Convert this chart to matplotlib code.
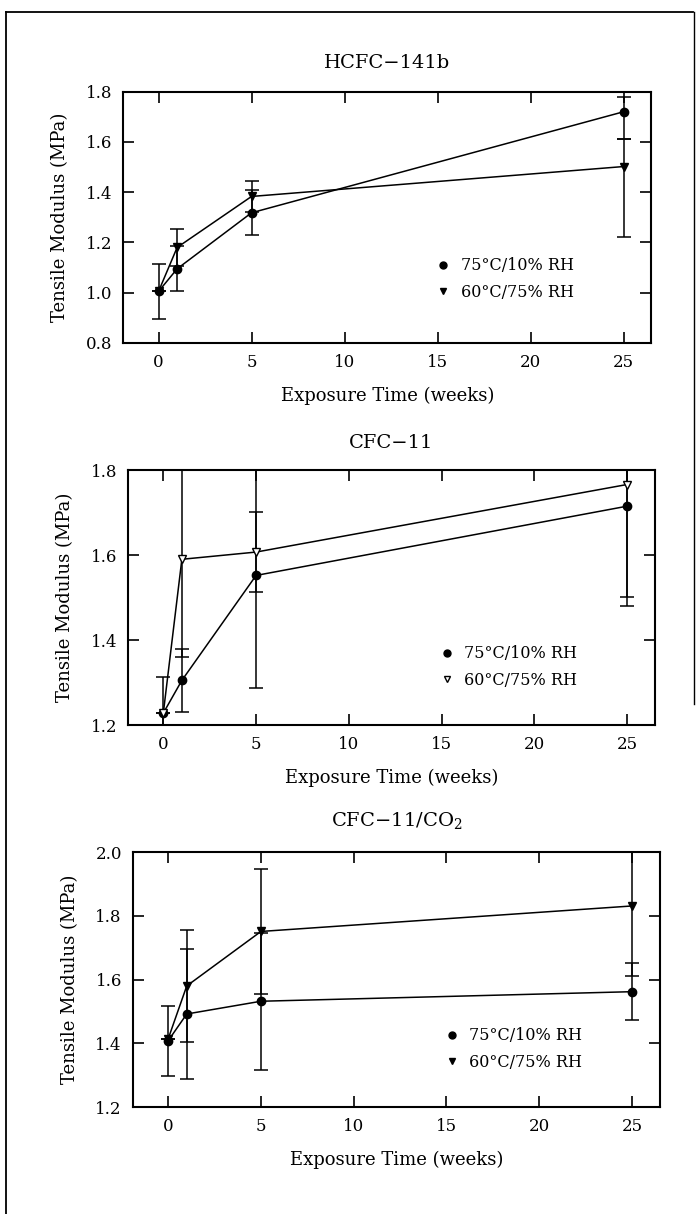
import matplotlib
matplotlib.use("Agg")
import matplotlib.pyplot as plt
from matplotlib.lines import Line2D

plt.rcParams['font.family'] = ['DejaVu Serif']
plt.rcParams['mathtext.fontset'] = 'dejavuserif'

weeks = [0, 1, 5, 25]
labels = ['75°C/10% RH', '60°C/75% RH']

# HCFC-141b
h_dry = [1.005, 1.095, 1.318, 1.72]
h_dry_lo = [0.11, 0.09, 0.09, 0.11]
h_dry_hi = [0.11, 0.09, 0.09, 0.06]
h_wet = [1.005, 1.18, 1.383, 1.502]
h_wet_lo = [0.0, 0.075, 0.06, 0.28]
h_wet_hi = [0.0, 0.075, 0.06, 0.11]

# CFC-11
c_dry = [1.228, 1.305, 1.552, 1.715]
c_dry_err = [0.085, 0.075, 0.265, 0.235]
c_wet = [1.228, 1.59, 1.607, 1.766]
c_wet_err = [0.0, 0.23, 0.095, 0.265]

# CFC-11/CO2
k_dry = [1.408, 1.492, 1.532, 1.562]
k_dry_err = [0.11, 0.205, 0.215, 0.09]
k_wet = [1.414, 1.58, 1.751, 1.831]
k_wet_err = [0.0, 0.175, 0.197, 0.22]

panels = [
    dict(title='HCFC\u2212141b', pos=[0.177, 0.7175, 0.759, 0.207],
         ylim=(0.8, 1.8), yticks=[0.8, 1.0, 1.2, 1.4, 1.6, 1.8],
         dry=h_dry, dry_err=[h_dry_lo, h_dry_hi],
         wet=h_wet, wet_err=[h_wet_lo, h_wet_hi], open_tri=False,
         leg_y=0.11, pad=17),
    dict(title='CFC\u221211', pos=[0.184, 0.4028, 0.757, 0.210],
         ylim=(1.2, 1.8), yticks=[1.2, 1.4, 1.6, 1.8],
         dry=c_dry, dry_err=c_dry_err,
         wet=c_wet, wet_err=c_wet_err, open_tri=True,
         leg_y=0.085, pad=16),
    dict(title='CFC\u221211/CO$_2$', pos=[0.191, 0.0881, 0.757, 0.210],
         ylim=(1.2, 2.0), yticks=[1.2, 1.4, 1.6, 1.8, 2.0],
         dry=k_dry, dry_err=k_dry_err,
         wet=k_wet, wet_err=k_wet_err, open_tri=False,
         leg_y=0.085, pad=19),
]

fig = plt.figure(figsize=(6.96, 12.14), dpi=100)

for p in panels:
    ax = fig.add_axes(p['pos'])
    ax.errorbar(weeks, p['dry'], yerr=p['dry_err'], color='black', lw=1.1,
                marker='o', ms=6, capsize=5, elinewidth=1.1, capthick=1.1)
    tri_face = 'white' if p['open_tri'] else 'black'
    ax.errorbar(weeks, p['wet'], yerr=p['wet_err'], color='black', lw=1.1,
                marker='v', ms=6, mfc=tri_face, mec='black', capsize=5,
                elinewidth=1.1, capthick=1.1)
    ax.set_xlim(-1.9, 26.5)
    ax.set_ylim(*p['ylim'])
    ax.set_xticks([0, 5, 10, 15, 20, 25])
    ax.set_yticks(p['yticks'])
    ax.set_yticklabels(['%.1f' % v for v in p['yticks']])
    ax.tick_params(direction='in', length=8, width=1.2, top=True, right=True,
                   labelsize=12, pad=8)
    for s in ax.spines.values():
        s.set_linewidth(1.5)
    ax.set_title(p['title'], fontsize=14, pad=p['pad'])
    ax.set_xlabel('Exposure Time (weeks)', fontsize=13, labelpad=11)
    ax.set_ylabel('Tensile Modulus (MPa)', fontsize=13, labelpad=12)
    handles = [Line2D([], [], ls='none', marker='o', ms=5, color='black'),
               Line2D([], [], ls='none', marker='v', ms=4, mfc=tri_face,
                      mec='black')]
    ax.legend(handles, labels, loc='lower right', frameon=False, fontsize=11.5,
              handlelength=1.0, handletextpad=0.6, labelspacing=0.6,
              bbox_to_anchor=(0.88, p['leg_y']))

# page frame from the scan
fig.add_artist(Line2D([0.008, 0.008], [0.0, 0.99], color='black', lw=1.3))
fig.add_artist(Line2D([0.008, 0.995], [0.99, 0.99], color='black', lw=1.3))
fig.add_artist(Line2D([0.997, 0.997], [0.99, 0.42], color='black', lw=1.0))

fig.savefig('out.png', dpi=100)
